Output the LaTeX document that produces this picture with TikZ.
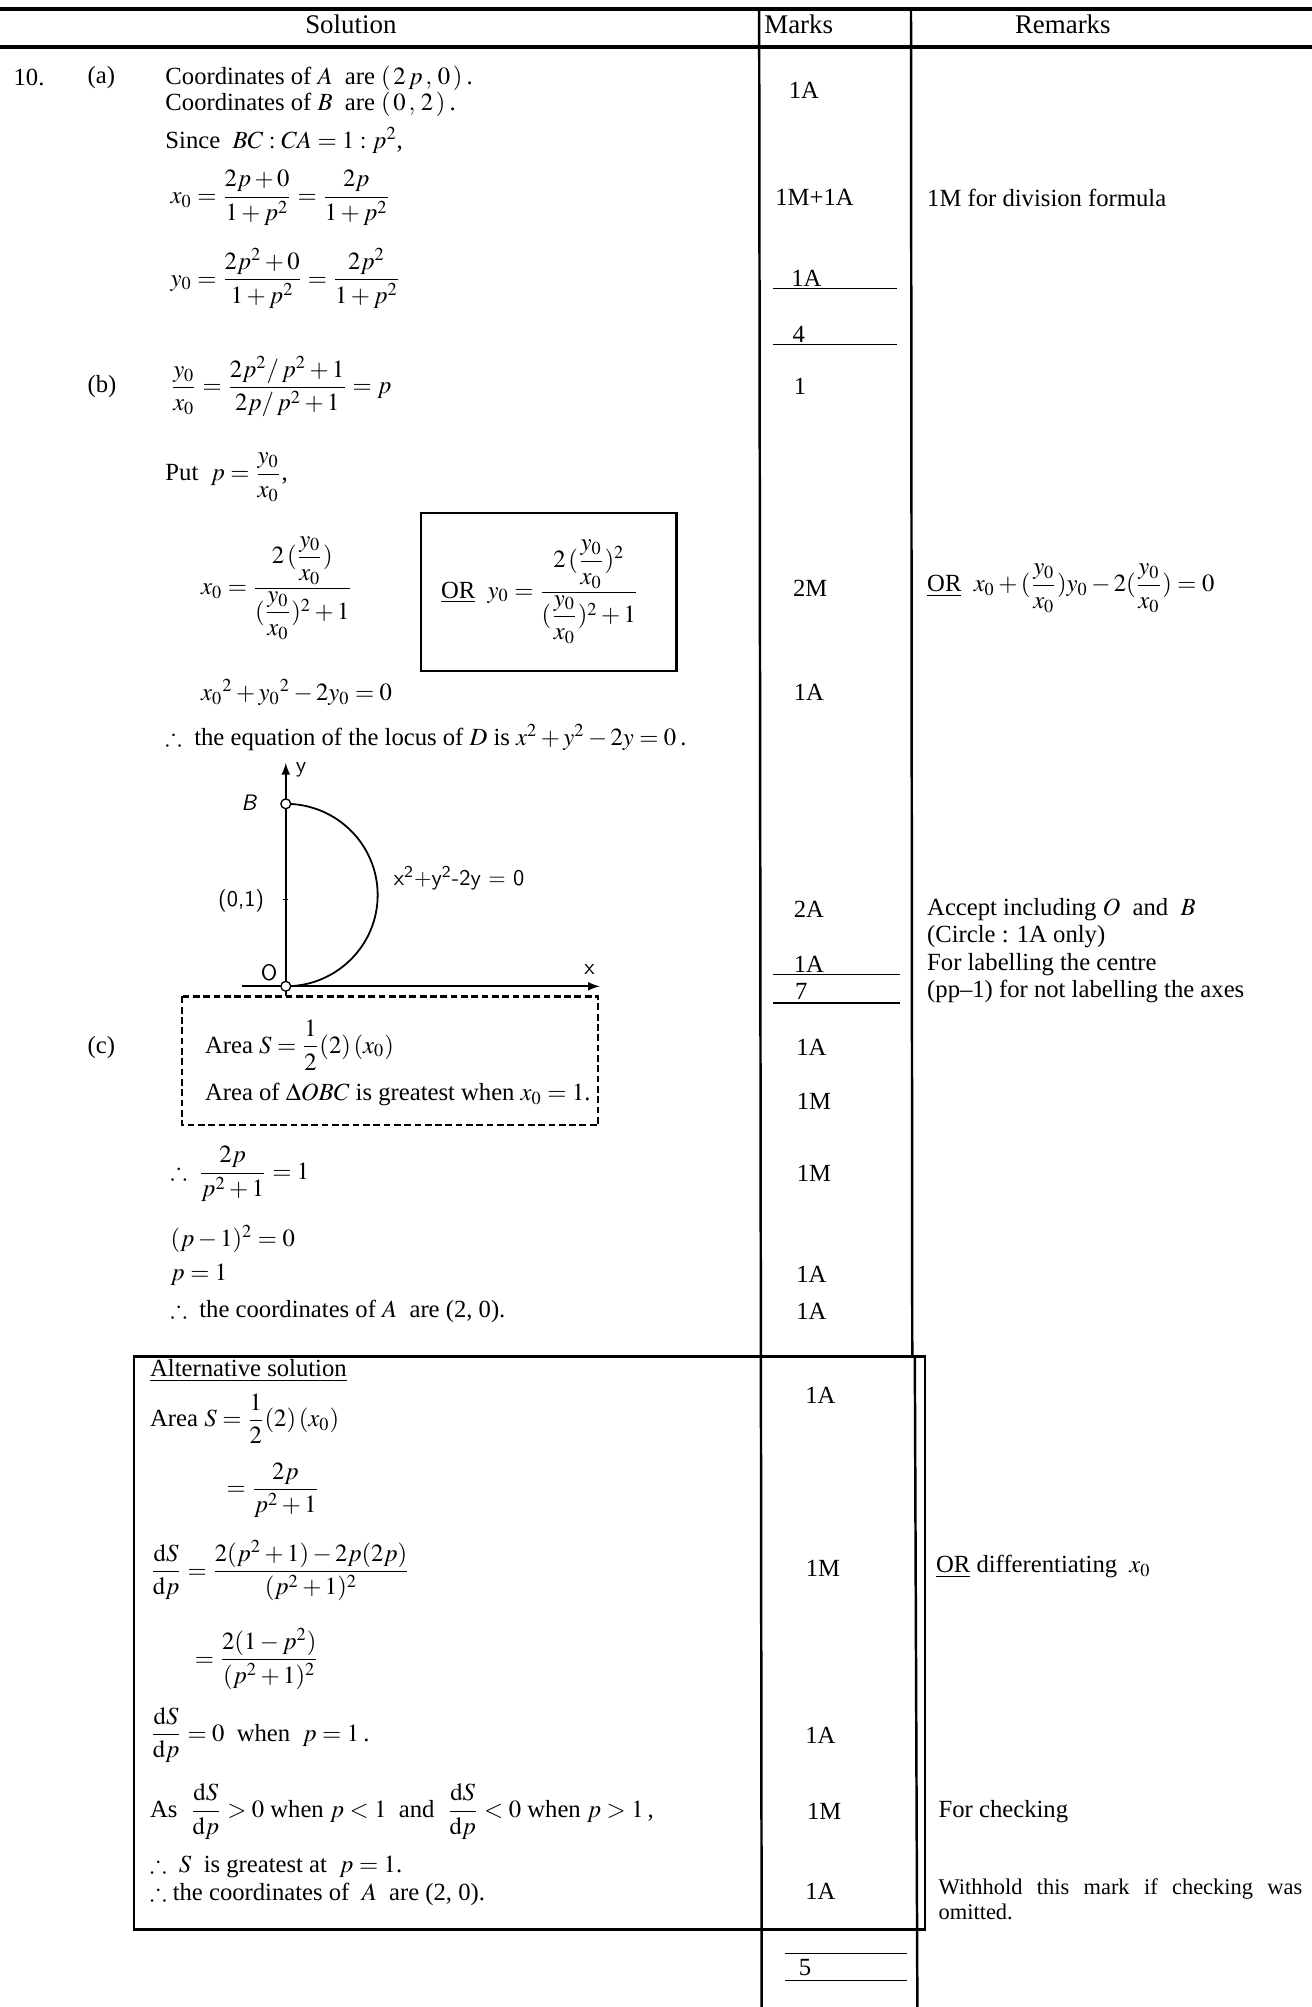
\documentclass[tikz,border=0pt]{standalone}
\usepackage{amsmath,amssymb}
\usepackage{mathptmx}
\usepackage{fontspec}
\setmainfont{Liberation Serif}
\usepackage{tikz}
\usetikzlibrary{arrows}

\begin{document}
\begin{tikzpicture}[x=0.02cm, y=-0.02cm, line width=0.8pt,
  font=\fontsize{11}{13}\selectfont,
  txt/.style={anchor=west, inner sep=0pt},
  mk/.style={anchor=center, inner sep=0pt},
  rem/.style={anchor=west, inner sep=0pt},
  hand/.style={inner sep=0pt, font=\sffamily\fontsize{10}{12}\selectfont},
  rule/.style={line width=0.6pt}]

\useasboundingbox (0,0) rectangle (1028,1573);

\begin{scope}
\draw[line width=1.4pt] (0,7) -- (1028,7);
\draw[line width=1.6pt] (0,37) -- (1028,37);
\draw[line width=1.1pt] (595,7) -- (597,1573);
\draw[line width=1.1pt] (714,7) -- (715,1063);
\draw[line width=1.1pt] (717,1063) -- (719,1573);
\node[mk, font=\fontsize{12}{14}\selectfont] (hsol) at (275,19) {Solution};
\node[mk, font=\fontsize{12}{14}\selectfont] (hmarks) at (626,19) {Marks};
\node[mk, font=\fontsize{12}{14}\selectfont] (hrem) at (833,19) {Remarks};
\end{scope}

\node[txt] (qno) at (10,61) {10.};
\node[txt] (parta) at (68,61) {(a)};
\node[txt] (coordA) at (129,61) {Coordinates of $A$ \ are $(\,2\,p\,,\,0\,)$\,.};
\node[txt] (coordB) at (129,82) {Coordinates of $B$ \ are $(\,0\,,\,2\,)$\,.};
\node[txt] (since) at (129,110) {Since \ $BC:CA=1:p^2$,};
\node[txt] (xzero) at (133,155) {$x_0=\dfrac{2p+0}{1+p^2}=\dfrac{2p}{1+p^2}$};
\node[txt] (yzero) at (133,218) {$y_0=\dfrac{2p^2+0}{1+p^2}=\dfrac{2p^2}{1+p^2}$};

\node[txt] (partb) at (68,303) {(b)};
\node[txt] (ratio) at (133,303) {$\dfrac{y_0}{x_0}=\dfrac{2p^2/\,p^2+1}{2p/\,p^2+1}=p$};
\node[txt] (put) at (129,374) {Put \ $p=\dfrac{y_0}{x_0}$,};
\node[txt] (subx) at (157,461) {$x_0=\dfrac{2\,(\dfrac{y_0}{x_0})}{(\dfrac{y_0}{x_0})^2+1}$};
\draw[line width=1.2pt] (330,402) rectangle (530,526);
\node[txt] (suby) at (345,464) {\underline{OR}\ \ $y_0=\dfrac{2\,(\dfrac{y_0}{x_0})^2}{(\dfrac{y_0}{x_0})^2+1}$};
\node[txt] (circ) at (157,543) {$x_0{}^2+y_0{}^2-2y_0=0$};
\node[txt] (locus) at (129,578) {$\therefore$\ \ the equation of the locus of $D$ is $x^2+y^2-2y=0$\,.};

\begin{scope}
\coordinate (O) at (224,773);
\coordinate (B) at (224,630);
\draw[-latex] (190,773) -- (470,773);
\draw[-latex] (224,781) -- (224,598);
\draw (B) arc (-90:90:72 and 71.5);
\draw (222,705) -- (226,705);
\draw[fill=white, line width=0.6pt] (B) circle (2.2pt);
\draw[fill=white, line width=0.6pt] (O) circle (2.2pt);
\node[hand] (lblB) at (195,629) {\itshape B};
\node[hand] (lbly) at (236,603) {y};
\node[hand] (lblO) at (211,762) {O};
\node[hand] (lblx) at (462,760) {x};
\node[hand] (lblc) at (189,706) {(0,1)};
\node[hand, anchor=west] (lbleq) at (308,688) {x\textsuperscript{2}+y\textsuperscript{2}-2y = 0};
\end{scope}

\node[txt] (partc) at (68,821) {(c)};
\draw[dashed, dash pattern=on 3pt off 1.6pt, line width=0.9pt] (143,781) rectangle (469,882);
\node[txt] (area) at (160,819) {Area $S=\dfrac{1}{2}(2)\,(x_0)$};
\node[txt] (great) at (160,858) {Area of $\Delta OBC$ is greatest when $x_0=1$.};
\node[txt] (eqone) at (133,920) {$\therefore\ \dfrac{2p}{p^2+1}=1$};
\node[txt] (sq) at (133,971) {$(p-1)^2=0$};
\node[txt] (pone) at (133,999) {$p=1$};
\node[txt] (ansA) at (133,1028) {$\therefore$\ \ the coordinates of $A$ \ are (2, 0).};

\begin{scope}
\draw[line width=1.2pt] (105,1063) rectangle (725,1512);
\node[txt] (alt) at (117,1074) {\underline{Alternative solution}};
\node[txt] (altarea) at (117,1112) {Area $S=\dfrac{1}{2}(2)\,(x_0)$};
\node[txt] (altfrac) at (177,1168) {$=\dfrac{2p}{p^2+1}$};
\node[txt] (deriv) at (117,1231) {$\dfrac{\mathrm{d}S}{\mathrm{d}p}=\dfrac{2(p^2+1)-2p(2p)}{(p^2+1)^2}$};
\node[txt] (derivb) at (152,1300) {$=\dfrac{2(1-p^2)}{(p^2+1)^2}$};
\node[txt] (stat) at (117,1360) {$\dfrac{\mathrm{d}S}{\mathrm{d}p}=0$\ \ when \ $p=1$\,.};
\node[txt] (check) at (117,1420) {As \ $\dfrac{\mathrm{d}S}{\mathrm{d}p}>0$ when $p<1$ \ and \ $\dfrac{\mathrm{d}S}{\mathrm{d}p}<0$ when $p>1$\,,};
\node[txt] (greatest) at (117,1463) {$\therefore$\ \ $S$ \ is greatest at \ $p=1$.};
\node[txt] (altans) at (117,1485) {$\therefore$ the coordinates of \ $A$ \ are (2, 0).};
\end{scope}

\node[mk] (ma1) at (630,71) {1A};
\node[txt] (ma2) at (607,155) {1M+1A};
\node[mk] (ma3) at (632,218) {1A};
\draw[rule] (606,226) -- (703,226);
\node[mk] (tota) at (626,262) {4};
\draw[rule] (606,270) -- (703,270);
\node[mk] (mb1) at (627,303) {1};
\node[mk] (mb2) at (635,461) {2M};
\node[mk] (mb3) at (634,543) {1A};
\node[mk] (mb4) at (634,713) {2A};
\node[mk] (mb5) at (634,756) {1A};
\draw[rule] (606,764) -- (705,764);
\node[mk] (totb) at (628,777) {7};
\draw[rule] (606,786) -- (705,786);
\node[mk] (mc1) at (636,821) {1A};
\node[mk] (mc2) at (638,863) {1M};
\node[mk] (mc3) at (638,920) {1M};
\node[mk] (mc4) at (636,999) {1A};
\node[mk] (mc5) at (636,1028) {1A};
\node[mk] (md1) at (643,1094) {1A};
\node[mk] (md2) at (645,1229) {1M};
\node[mk] (md3) at (643,1360) {1A};
\node[mk] (md4) at (646,1420) {1M};
\node[mk] (md5) at (643,1482) {1A};
\draw[rule] (615,1531) -- (711,1531);
\node[mk] (totc) at (631,1542) {5};
\draw[rule] (615,1552) -- (711,1552);

\node[rem] (ra1) at (726,155) {1M for division formula};
\node[rem] (rb1) at (726,461) {\underline{OR}\ \ $x_0+(\dfrac{y_0}{x_0})y_0-2(\dfrac{y_0}{x_0})=0$};
\node[rem] (rb2) at (726,713) {Accept including $O$ \ and \ $B$};
\node[rem] (rb3) at (726,734) {(Circle : 1A only)};
\node[rem] (rb4) at (726,756) {For labelling the centre};
\node[rem] (rb5) at (726,777) {(pp--1) for not labelling the axes};
\node[rem] (rd1) at (733,1228) {\underline{OR}\ differentiating \ $x_0$};
\node[rem] (rd2) at (735,1420) {For checking};
\node[rem, anchor=north west, text width=5.7cm, align=justify,
  font=\fontsize{10}{11}\selectfont] (rd3) at (735,1472) {Withhold this mark if checking was\linebreak \mbox{omitted.}};

\end{tikzpicture}
\end{document}
